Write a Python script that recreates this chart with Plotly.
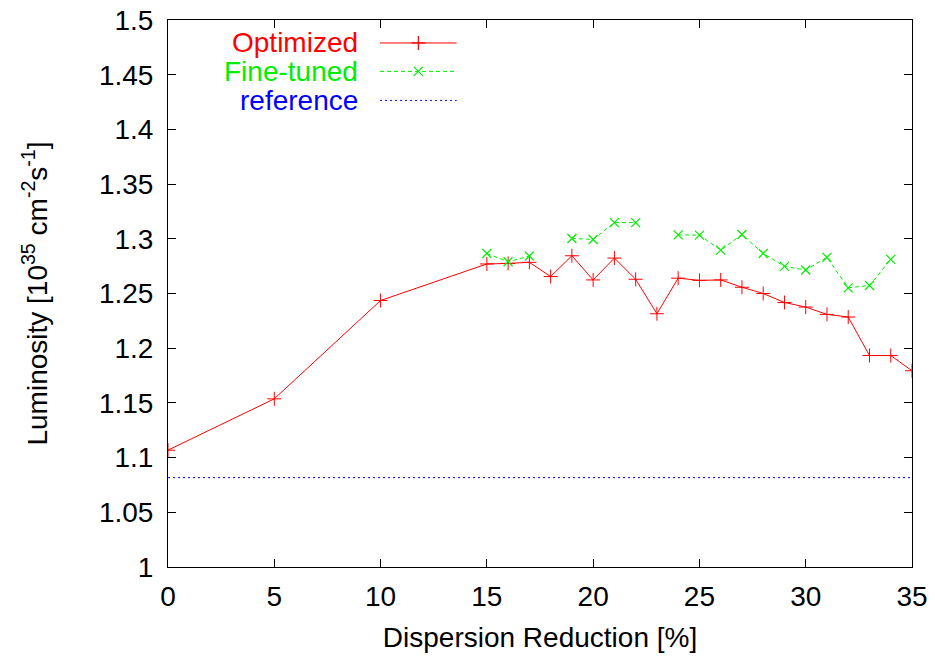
import plotly.graph_objects as go

# Data
x_opt = [0, 5, 10, 15, 16, 17, 18, 19, 20, 21, 22, 23, 24, 25, 26, 27, 28, 29, 30, 31, 32, 33, 34, 35]
y_opt = [1.1068, 1.1537, 1.2436, 1.2770, 1.2775, 1.2785, 1.2655, 1.2845, 1.2624, 1.2824, 1.2630, 1.2315,
         1.2640, 1.2620, 1.2624, 1.2557, 1.2500, 1.2418, 1.2376, 1.2309, 1.2285, 1.1933, 1.1933, 1.1794]
x_fine = [15, 16, 17, 18, 19, 20, 21, 22, 23, 24, 25, 26, 27, 28, 29, 30, 31, 32, 33, 34]
y_fine = [1.2866, 1.2790, 1.2843, None, 1.3003, 1.2994, 1.3148, 1.3148, None, 1.3036, 1.3033, 1.2897,
          1.3039, 1.2866, 1.2748, 1.2715, 1.2830, 1.2552, 1.2573, 1.2812]
ref_value = 1.0817
x_ref = [0, 35]
y_ref = [ref_value, ref_value]

series_names = ["Optimized", "Fine-tuned", "reference"]
series_colors = ["#ff0000", "#00ee00", "#0000ff"]

FONT = "Liberation Sans, Arial, sans-serif"
FS = 28

fig = go.Figure()
fig.add_trace(go.Scatter(x=x_opt, y=y_opt, mode="lines+markers",
                         line=dict(color=series_colors[0], width=1),
                         marker=dict(symbol="cross-thin", size=10, color=series_colors[0],
                                     line=dict(color=series_colors[0], width=1)),
                         showlegend=False))
fig.add_trace(go.Scatter(x=x_fine, y=y_fine, mode="lines+markers", connectgaps=False,
                         line=dict(color=series_colors[1], width=1, dash="4px,3px"),
                         marker=dict(symbol="x-thin", size=9, color=series_colors[1],
                                     line=dict(color=series_colors[1], width=1.2)),
                         showlegend=False))
fig.add_trace(go.Scatter(x=x_ref, y=y_ref, mode="lines",
                         line=dict(color=series_colors[2], width=1, dash="2px,3px"),
                         showlegend=False))

# Custom gnuplot-style legend (text right, key sample on the right)
leg_y = [0.958, 0.906, 0.853]
leg_x0, leg_x1 = 0.285, 0.388
leg_text_x = 0.258
symbols = ["cross-thin", "x-thin", None]
dashes = ["solid", "4px,3px", "2px,3px"]
for i, name in enumerate(series_names):
    fig.add_trace(go.Scatter(x=[leg_x0, leg_x1], y=[leg_y[i], leg_y[i]], mode="lines",
                             xaxis="x2", yaxis="y2",
                             line=dict(color=series_colors[i], width=1, dash=dashes[i]),
                             showlegend=False, hoverinfo="skip"))
    if symbols[i]:
        fig.add_trace(go.Scatter(x=[(leg_x0 + leg_x1) / 2], y=[leg_y[i]], mode="markers",
                                 xaxis="x2", yaxis="y2",
                                 marker=dict(symbol=symbols[i], size=10 if i == 0 else 9,
                                             color=series_colors[i],
                                             line=dict(color=series_colors[i], width=1.2)),
                                 showlegend=False, hoverinfo="skip"))
    fig.add_annotation(x=leg_text_x, y=leg_y[i], xref="x2", yref="y2", text=name,
                       showarrow=False, xanchor="right", yanchor="middle",
                       font=dict(family=FONT, size=FS, color=series_colors[i]))

axis_common = dict(showline=True, linecolor="black", linewidth=1, mirror="allticks",
                   ticks="inside", ticklen=8, tickwidth=1, tickcolor="black",
                   showgrid=False, zeroline=False, automargin=False,
                   ticklabeloverflow="allow",
                   tickfont=dict(family=FONT, size=FS, color="black"))

fig.update_layout(
    width=935, height=661,
    margin=dict(l=160, r=31, t=12, b=102),
    paper_bgcolor="white", plot_bgcolor="white",
    xaxis=dict(range=[0, 35], dtick=5, tick0=0, ticklabelstandoff=4,
               title=dict(text="Dispersion Reduction [%]", font=dict(family=FONT, size=FS, color="black"),
                          standoff=16),
               **axis_common),
    yaxis=dict(range=[1, 1.5], dtick=0.05, tick0=1, ticklabelstandoff=8,
               title=dict(text="Luminosity [10<sup>35</sup> cm<sup>-2</sup>s<sup>-1</sup>]",
                          font=dict(family=FONT, size=FS, color="black"), standoff=43),
               **axis_common),
    xaxis2=dict(overlaying="x", range=[0, 1], visible=False),
    yaxis2=dict(overlaying="y", range=[0, 1], visible=False),
)

fig.write_html("out.html")
